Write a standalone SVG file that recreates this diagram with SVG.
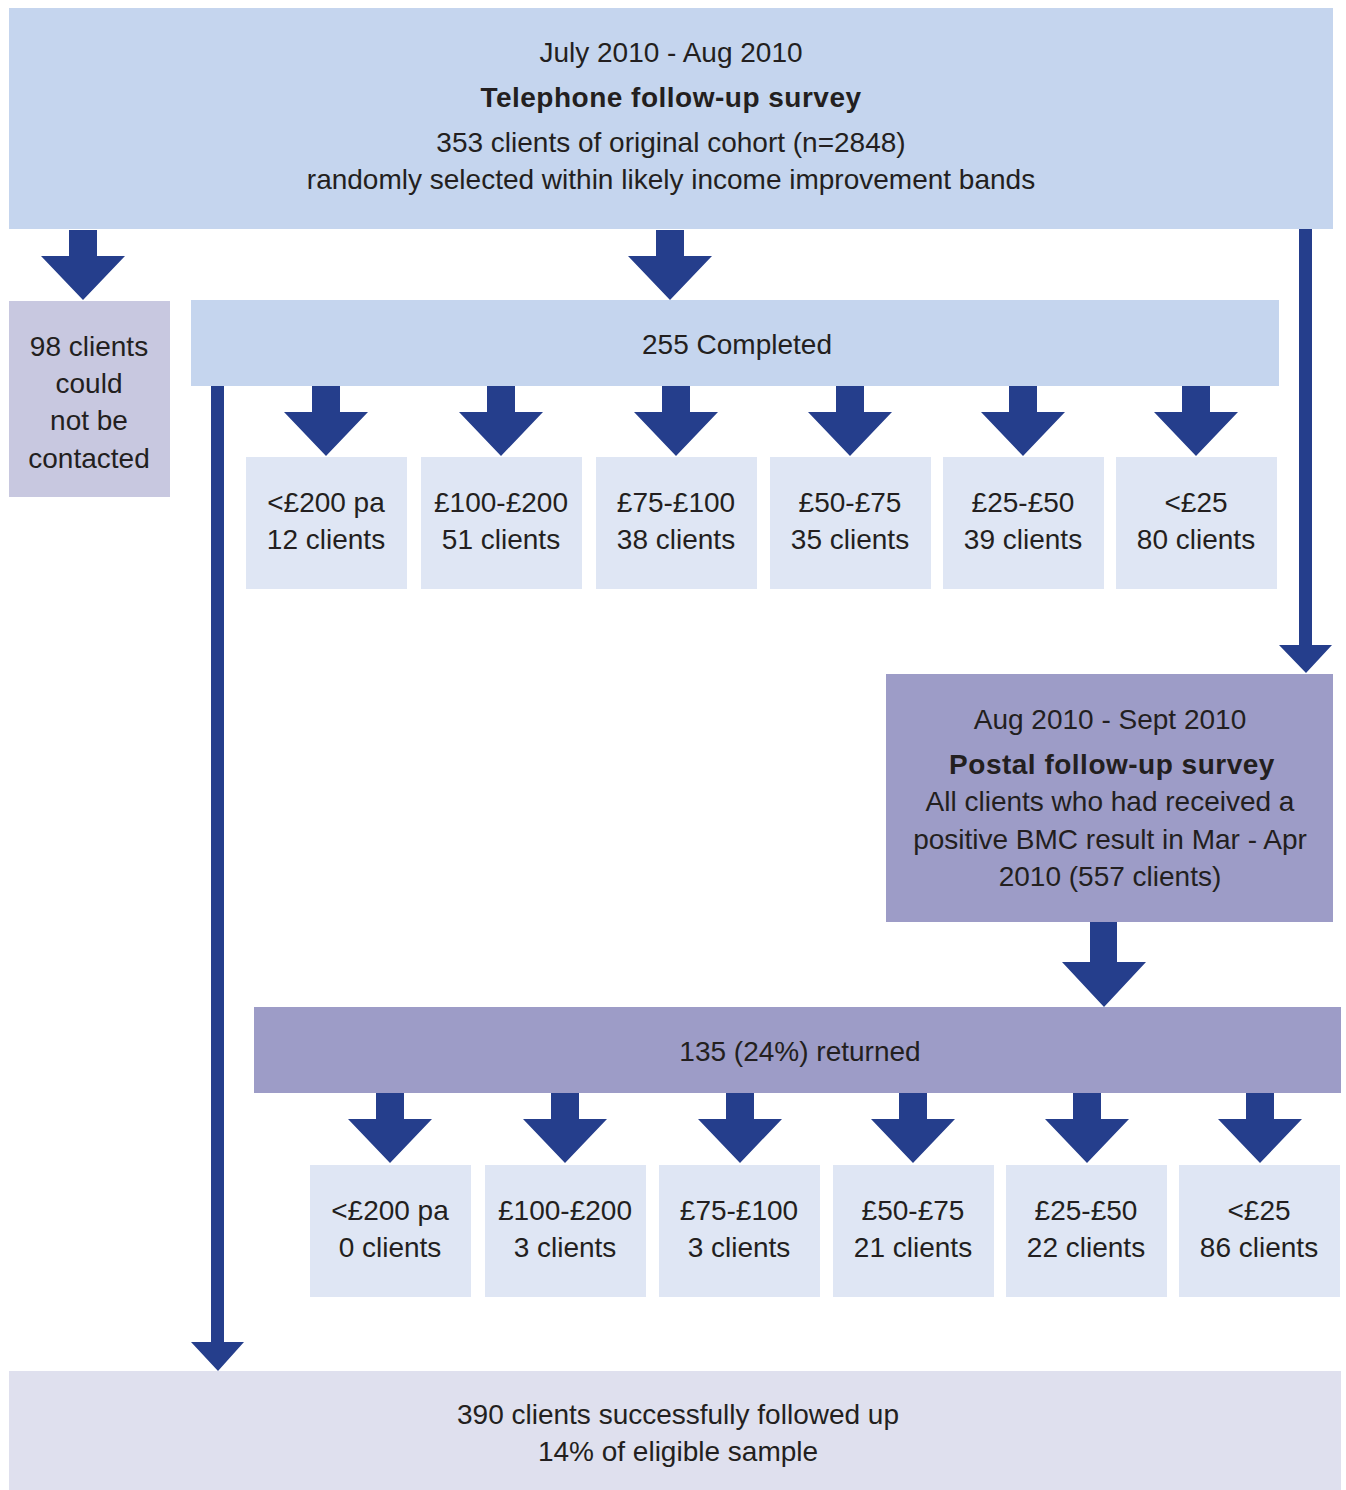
<svg xmlns="http://www.w3.org/2000/svg" width="1346" height="1490" viewBox="0 0 1346 1490">
<style>
text{font-family:"Liberation Sans",Arial,sans-serif;font-size:28px;fill:#231f20;text-anchor:middle}
.b{font-weight:bold;letter-spacing:0.5px}
.tel{fill:#c5d5ee}
.band{fill:#dfe6f4}
.gray{fill:#c8c8e0}
.post{fill:#9d9cc7}
.fin{fill:#dfe0ee}
.arr{fill:#253e8c}
</style>
<defs>
<path id="sa" d="M-14,0 H14 V26 H42 L0,70 L-42,26 H-14 Z"/>
</defs>
<g id="connectors">
<use href="#sa" class="arr" x="83" y="230"/>
<use href="#sa" class="arr" x="670" y="230"/>
<path class="arr" d="M1299,229 H1312 V645 H1332 L1306,673 L1279,645 H1299 Z"/>
<path class="arr" d="M211,386 H224 V1342 H244 L218,1371 L191,1342 H211 Z"/>
<path class="arr" d="M1090,922 H1117 V962 H1146 L1104,1007 L1062,962 H1090 Z"/>
<use href="#sa" class="arr" x="326" y="386"/>
<use href="#sa" class="arr" x="501" y="386"/>
<use href="#sa" class="arr" x="676" y="386"/>
<use href="#sa" class="arr" x="850" y="386"/>
<use href="#sa" class="arr" x="1023" y="386"/>
<use href="#sa" class="arr" x="1196" y="386"/>
<use href="#sa" class="arr" x="390" y="1093"/>
<use href="#sa" class="arr" x="565" y="1093"/>
<use href="#sa" class="arr" x="740" y="1093"/>
<use href="#sa" class="arr" x="913" y="1093"/>
<use href="#sa" class="arr" x="1087" y="1093"/>
<use href="#sa" class="arr" x="1260" y="1093"/>
</g>
<g id="telephone">
<rect class="tel" x="9" y="8" width="1324" height="221"/>
<text x="671" y="62">July 2010 - Aug 2010</text>
<text class="b" x="671" y="107">Telephone follow-up survey</text>
<text x="671" y="152">353 clients of original cohort (n=2848)</text>
<text x="671" y="189">randomly selected within likely income improvement bands</text>
</g>
<g id="not-contacted">
<rect class="gray" x="9" y="301" width="161" height="196"/>
<text x="89" y="356">98 clients</text>
<text x="89" y="393">could</text>
<text x="89" y="430">not be</text>
<text x="89" y="468">contacted</text>
</g>
<g id="completed">
<rect class="tel" x="191" y="300" width="1088" height="86"/>
<text x="737" y="354">255 Completed</text>
</g>
<g id="t1"><rect class="band" x="246" y="457" width="161" height="132"/><text x="326" y="512">&lt;£200 pa</text><text x="326" y="549">12 clients</text></g>
<g id="t2"><rect class="band" x="421" y="457" width="161" height="132"/><text x="501" y="512">£100-£200</text><text x="501" y="549">51 clients</text></g>
<g id="t3"><rect class="band" x="596" y="457" width="161" height="132"/><text x="676" y="512">£75-£100</text><text x="676" y="549">38 clients</text></g>
<g id="t4"><rect class="band" x="770" y="457" width="161" height="132"/><text x="850" y="512">£50-£75</text><text x="850" y="549">35 clients</text></g>
<g id="t5"><rect class="band" x="943" y="457" width="161" height="132"/><text x="1023" y="512">£25-£50</text><text x="1023" y="549">39 clients</text></g>
<g id="t6"><rect class="band" x="1116" y="457" width="161" height="132"/><text x="1196" y="512">&lt;£25</text><text x="1196" y="549">80 clients</text></g>
<g id="postal">
<rect class="post" x="886" y="674" width="447" height="248"/>
<text x="1110" y="729">Aug 2010 - Sept 2010</text>
<text class="b" x="1112" y="774">Postal follow-up survey</text>
<text x="1110" y="811">All clients who had received a</text>
<text x="1110" y="849">positive BMC result in Mar - Apr</text>
<text x="1110" y="886">2010 (557 clients)</text>
</g>
<g id="returned">
<rect class="post" x="254" y="1007" width="1087" height="86"/>
<text x="800" y="1061">135 (24%) returned</text>
</g>
<g id="p1"><rect class="band" x="310" y="1165" width="161" height="132"/><text x="390" y="1220">&lt;£200 pa</text><text x="390" y="1257">0 clients</text></g>
<g id="p2"><rect class="band" x="485" y="1165" width="161" height="132"/><text x="565" y="1220">£100-£200</text><text x="565" y="1257">3 clients</text></g>
<g id="p3"><rect class="band" x="659" y="1165" width="161" height="132"/><text x="739" y="1220">£75-£100</text><text x="739" y="1257">3 clients</text></g>
<g id="p4"><rect class="band" x="833" y="1165" width="161" height="132"/><text x="913" y="1220">£50-£75</text><text x="913" y="1257">21 clients</text></g>
<g id="p5"><rect class="band" x="1006" y="1165" width="161" height="132"/><text x="1086" y="1220">£25-£50</text><text x="1086" y="1257">22 clients</text></g>
<g id="p6"><rect class="band" x="1179" y="1165" width="161" height="132"/><text x="1259" y="1220">&lt;£25</text><text x="1259" y="1257">86 clients</text></g>
<g id="final">
<rect class="fin" x="9" y="1371" width="1332" height="119"/>
<text x="678" y="1424">390 clients successfully followed up</text>
<text x="678" y="1461">14% of eligible sample</text>
</g>
</svg>
